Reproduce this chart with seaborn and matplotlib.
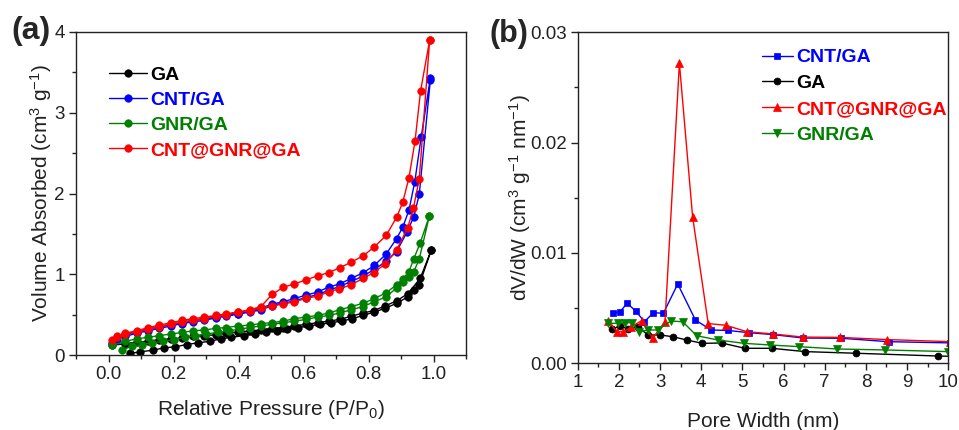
import numpy as np
import pandas as pd
import matplotlib
matplotlib.use("Agg")
import matplotlib.pyplot as plt
from matplotlib.ticker import MultipleLocator, FormatStrFormatter
import seaborn as sns

# ---------------- N2 sorption isotherms (adsorption + desorption branches) ----------------
ga_ads_p = [0.067, 0.097, 0.138, 0.171, 0.204, 0.240, 0.275, 0.311, 0.347, 0.378, 0.418, 0.450,
            0.483, 0.517, 0.550, 0.583, 0.617, 0.650, 0.683, 0.717, 0.750, 0.783, 0.816, 0.852,
            0.886, 0.921, 0.939, 0.956, 0.993]
ga_ads_v = [0.02, 0.04, 0.06, 0.09, 0.10, 0.13, 0.15, 0.17, 0.20, 0.22, 0.24, 0.26,
            0.28, 0.30, 0.32, 0.34, 0.36, 0.38, 0.40, 0.42, 0.45, 0.49, 0.53, 0.58,
            0.64, 0.72, 0.80, 0.87, 1.30]
ga_des_p = [0.993, 0.959, 0.921, 0.886, 0.852, 0.816, 0.783, 0.747, 0.711, 0.677, 0.643, 0.607,
            0.571, 0.538, 0.503, 0.469, 0.434, 0.398, 0.362, 0.330, 0.295, 0.260, 0.227, 0.192,
            0.156, 0.122, 0.087, 0.051, 0.010]
ga_des_v = [1.30, 0.95, 0.76, 0.67, 0.61, 0.55, 0.52, 0.48, 0.44, 0.42, 0.40, 0.38,
            0.36, 0.34, 0.33, 0.31, 0.30, 0.28, 0.27, 0.25, 0.24, 0.23, 0.21, 0.20,
            0.19, 0.17, 0.16, 0.14, 0.12]

cnt_ads_p = [0.010, 0.026, 0.051, 0.087, 0.122, 0.156, 0.192, 0.227, 0.260, 0.295, 0.330, 0.362,
             0.398, 0.434, 0.469, 0.503, 0.538, 0.571, 0.607, 0.643, 0.677, 0.711, 0.747, 0.784,
             0.818, 0.854, 0.886, 0.918, 0.939, 0.956, 0.990]
cnt_ads_v = [0.15, 0.19, 0.23, 0.27, 0.30, 0.33, 0.36, 0.39, 0.41, 0.43, 0.46, 0.48,
             0.51, 0.53, 0.56, 0.61, 0.64, 0.67, 0.71, 0.75, 0.80, 0.85, 0.91, 0.98,
             1.06, 1.16, 1.28, 1.52, 1.71, 1.99, 3.40]
cnt_des_p = [0.990, 0.962, 0.942, 0.924, 0.905, 0.886, 0.854, 0.818, 0.784, 0.747, 0.711, 0.677,
             0.643, 0.607, 0.572, 0.538, 0.503, 0.469, 0.434, 0.398, 0.362, 0.330, 0.295, 0.260,
             0.227, 0.192, 0.156, 0.122, 0.087, 0.051]
cnt_des_v = [3.43, 2.70, 2.14, 1.79, 1.58, 1.44, 1.25, 1.11, 1.02, 0.95, 0.88, 0.84,
             0.78, 0.74, 0.70, 0.66, 0.63, 0.58, 0.54, 0.51, 0.49, 0.47, 0.45, 0.43,
             0.40, 0.38, 0.35, 0.32, 0.29, 0.25]

gnr_ads_p = [0.041, 0.072, 0.102, 0.133, 0.168, 0.200, 0.235, 0.265, 0.300, 0.336, 0.370, 0.403,
             0.434, 0.469, 0.503, 0.538, 0.572, 0.607, 0.643, 0.677, 0.711, 0.747, 0.783, 0.818,
             0.854, 0.886, 0.905, 0.924, 0.939, 0.956, 0.987]
gnr_ads_v = [0.06, 0.11, 0.13, 0.15, 0.17, 0.19, 0.22, 0.24, 0.26, 0.28, 0.30, 0.32,
             0.34, 0.36, 0.38, 0.40, 0.42, 0.44, 0.47, 0.49, 0.52, 0.56, 0.60, 0.66,
             0.72, 0.83, 0.90, 0.96, 1.03, 1.19, 1.72]
gnr_des_p = [0.987, 0.959, 0.939, 0.924, 0.905, 0.886, 0.854, 0.818, 0.783, 0.747, 0.711, 0.677,
             0.643, 0.607, 0.572, 0.538, 0.503, 0.469, 0.434, 0.398, 0.362, 0.330, 0.295, 0.260,
             0.227, 0.192, 0.156, 0.122, 0.087, 0.051, 0.010]
gnr_des_v = [1.72, 1.39, 1.19, 1.03, 0.94, 0.87, 0.77, 0.70, 0.64, 0.60, 0.56, 0.52,
             0.49, 0.47, 0.45, 0.42, 0.40, 0.39, 0.37, 0.36, 0.34, 0.33, 0.31, 0.30,
             0.28, 0.26, 0.24, 0.22, 0.20, 0.17, 0.12]

cgg_ads_p = [0.010, 0.026, 0.051, 0.087, 0.122, 0.156, 0.192, 0.227, 0.260, 0.295, 0.330, 0.362,
             0.398, 0.434, 0.469, 0.503, 0.538, 0.571, 0.607, 0.643, 0.677, 0.709, 0.747, 0.783,
             0.816, 0.852, 0.886, 0.920, 0.938, 0.956, 0.988]
cgg_ads_v = [0.18, 0.22, 0.26, 0.29, 0.32, 0.35, 0.38, 0.41, 0.43, 0.45, 0.48, 0.50,
             0.53, 0.55, 0.58, 0.61, 0.63, 0.66, 0.70, 0.73, 0.78, 0.82, 0.87, 0.95,
             1.02, 1.13, 1.30, 1.57, 1.82, 2.18, 3.90]
cgg_des_p = [0.988, 0.960, 0.943, 0.924, 0.905, 0.887, 0.854, 0.818, 0.784, 0.747, 0.711, 0.677,
             0.643, 0.607, 0.572, 0.538, 0.503, 0.469, 0.434, 0.398, 0.362, 0.330, 0.295, 0.260,
             0.227, 0.192, 0.156, 0.122, 0.087, 0.051, 0.026]
cgg_des_v = [3.90, 3.27, 2.65, 2.19, 1.89, 1.71, 1.48, 1.34, 1.23, 1.15, 1.08, 1.02,
             0.98, 0.93, 0.88, 0.84, 0.75, 0.60, 0.56, 0.53, 0.51, 0.49, 0.47, 0.45,
             0.43, 0.40, 0.37, 0.34, 0.30, 0.27, 0.23]

# ---------------- pore size distributions ----------------
psd_cnt_w = [1.86, 2.03, 2.20, 2.41, 2.62, 2.84, 3.08, 3.43, 3.86, 4.24, 4.64, 5.15, 5.75, 6.48, 7.40, 8.55, 10.05]
psd_cnt_v = [0.00459, 0.00468, 0.00544, 0.00474, 0.00377, 0.00459, 0.00453, 0.00719, 0.00392,
             0.00302, 0.00298, 0.00278, 0.00260, 0.00229, 0.00227, 0.00196, 0.00185]
psd_ga_w = [1.83, 2.03, 2.23, 2.47, 2.70, 3.00, 3.31, 3.65, 4.03, 4.50, 5.06, 5.71, 6.52, 7.77, 9.75, 10.6]
psd_ga_v = [0.00308, 0.00341, 0.00308, 0.00332, 0.00257, 0.00257, 0.00241, 0.00211, 0.00181,
            0.00184, 0.00136, 0.00136, 0.00106, 0.00091, 0.00066, 0.00060]
psd_cgg_w = [1.74, 1.95, 2.11, 2.30, 2.55, 2.82, 3.12, 3.47, 3.79, 4.17, 4.59, 5.12, 5.74, 6.46, 7.36, 8.52, 10.05]
psd_cgg_v = [0.00386, 0.00286, 0.00286, 0.00330, 0.00386, 0.00227, 0.00377, 0.0272, 0.0133,
             0.00360, 0.00345, 0.00286, 0.00266, 0.00238, 0.00235, 0.00215, 0.00196]
psd_gnr_w = [1.74, 1.97, 2.14, 2.31, 2.50, 2.71, 2.94, 3.26, 3.55, 3.89, 4.41, 5.04, 5.67, 6.38, 7.29, 8.46, 10.0]
psd_gnr_v = [0.00363, 0.00363, 0.00368, 0.00368, 0.00286, 0.00302, 0.00302, 0.00383, 0.00377,
             0.00250, 0.00211, 0.00181, 0.00166, 0.00151, 0.00130, 0.00121, 0.00106]

BLACK, BLUE, GREEN, RED = "#000000", "#0000FF", "#008000", "#FF0000"

sns.set_style("ticks")
plt.rcParams["font.family"] = ["Liberation Sans", "DejaVu Sans"]
plt.rcParams["mathtext.fontset"] = "custom"
plt.rcParams["mathtext.rm"] = "Liberation Sans"
plt.rcParams["mathtext.it"] = "Liberation Sans:italic"
plt.rcParams["mathtext.bf"] = "Liberation Sans:bold"
plt.rcParams["axes.edgecolor"] = "#222222"
plt.rcParams["axes.linewidth"] = 1.0

fig = plt.figure(figsize=(9.59, 4.30), dpi=100)
ax1 = fig.add_axes([0.0793, 0.1744, 0.4067, 0.7512])
ax2 = fig.add_axes([0.6024, 0.1551, 0.3864, 0.7698])


def loop_frame(ads_p, ads_v, des_p, des_v):
    return pd.DataFrame({"p": list(ads_p) + list(des_p), "v": list(ads_v) + list(des_v)})


isotherms = [
    ("GA", BLACK, ga_ads_p, ga_ads_v, ga_des_p, ga_des_v),
    ("CNT/GA", BLUE, cnt_ads_p, cnt_ads_v, cnt_des_p, cnt_des_v),
    ("GNR/GA", GREEN, gnr_ads_p, gnr_ads_v, gnr_des_p, gnr_des_v),
    ("CNT@GNR@GA", RED, cgg_ads_p, cgg_ads_v, cgg_des_p, cgg_des_v),
]
for name, col, ap, av, dp, dv in isotherms:
    sns.lineplot(data=loop_frame(ap, av, dp, dv), x="p", y="v", sort=False, estimator=None,
                 color=col, marker="o", markersize=5.4, markeredgecolor=col, markeredgewidth=0.5,
                 linewidth=1.0, label=name, ax=ax1)

psd = [
    ("CNT/GA", BLUE, "s", psd_cnt_w, psd_cnt_v, 4.6),
    ("GA", BLACK, "o", psd_ga_w, psd_ga_v, 5.0),
    ("CNT@GNR@GA", RED, "^", psd_cgg_w, psd_cgg_v, 5.4),
    ("GNR/GA", GREEN, "v", psd_gnr_w, psd_gnr_v, 5.4),
]
for name, col, mk, w, v, ms in psd:
    sns.lineplot(x=w, y=v, sort=False, estimator=None, color=col, marker=mk, markersize=ms,
                 markeredgecolor=col, markeredgewidth=0.5, linewidth=1.0, label=name, ax=ax2)

tick_fs = 13.5
label_fs = 15

# left axes
ax1.set_xlim(-0.1, 1.1)
ax1.set_ylim(0, 4)
ax1.xaxis.set_major_locator(MultipleLocator(0.2))
ax1.xaxis.set_minor_locator(MultipleLocator(0.1))
ax1.xaxis.set_major_formatter(FormatStrFormatter("%.1f"))
ax1.yaxis.set_major_locator(MultipleLocator(1))
ax1.yaxis.set_minor_locator(MultipleLocator(0.5))
ax1.set_xlabel("Relative Pressure (P/P$_0$)", fontsize=label_fs, labelpad=11, color="#222222")
ax1.set_ylabel("Volume Absorbed (cm$^3$ g$^{-1}$)", fontsize=label_fs, labelpad=0, color="#222222")

# right axes
ax2.set_xlim(1, 10)
ax2.set_ylim(0, 0.03)
ax2.xaxis.set_major_locator(MultipleLocator(1))
ax2.xaxis.set_minor_locator(MultipleLocator(0.5))
ax2.yaxis.set_major_locator(MultipleLocator(0.01))
ax2.yaxis.set_minor_locator(MultipleLocator(0.005))
ax2.yaxis.set_major_formatter(FormatStrFormatter("%.2f"))
ax2.set_xlabel("Pore Width (nm)", fontsize=label_fs, labelpad=15, color="#222222")
ax2.set_ylabel("dV/dW (cm$^3$ g$^{-1}$ nm$^{-1}$)", fontsize=label_fs, labelpad=-2.5, color="#222222")

for ax in (ax1, ax2):
    ax.tick_params(which="major", direction="out", length=5, width=1.0, labelsize=tick_fs,
                   colors="#222222", pad=3)
    ax.tick_params(which="minor", direction="out", length=3, width=1.0, colors="#222222")
    for s in ax.spines.values():
        s.set_visible(True)
        s.set_color("#222222")

leg_common = dict(frameon=False, handletextpad=0.15, borderpad=0.0, borderaxespad=0.0,
                  labelcolor="linecolor",
                  prop={"weight": "bold", "size": 14, "family": "Liberation Sans"})
ax1.legend(loc="upper left", bbox_to_anchor=(0.085, 0.893), handlelength=1.95,
           labelspacing=0.38, **leg_common)
ax2.legend(loc="upper left", bbox_to_anchor=(0.497, 0.950), handlelength=1.6,
           labelspacing=0.42, **leg_common)

fig.text(0.012, 1 - 31.5 / 430, "(a)", fontsize=23, fontweight="bold", va="center", ha="left")
fig.text(0.5105, 1 - 34 / 430, "(b)", fontsize=22, fontweight="bold", va="center", ha="left")

fig.savefig("out.png", dpi=100)
